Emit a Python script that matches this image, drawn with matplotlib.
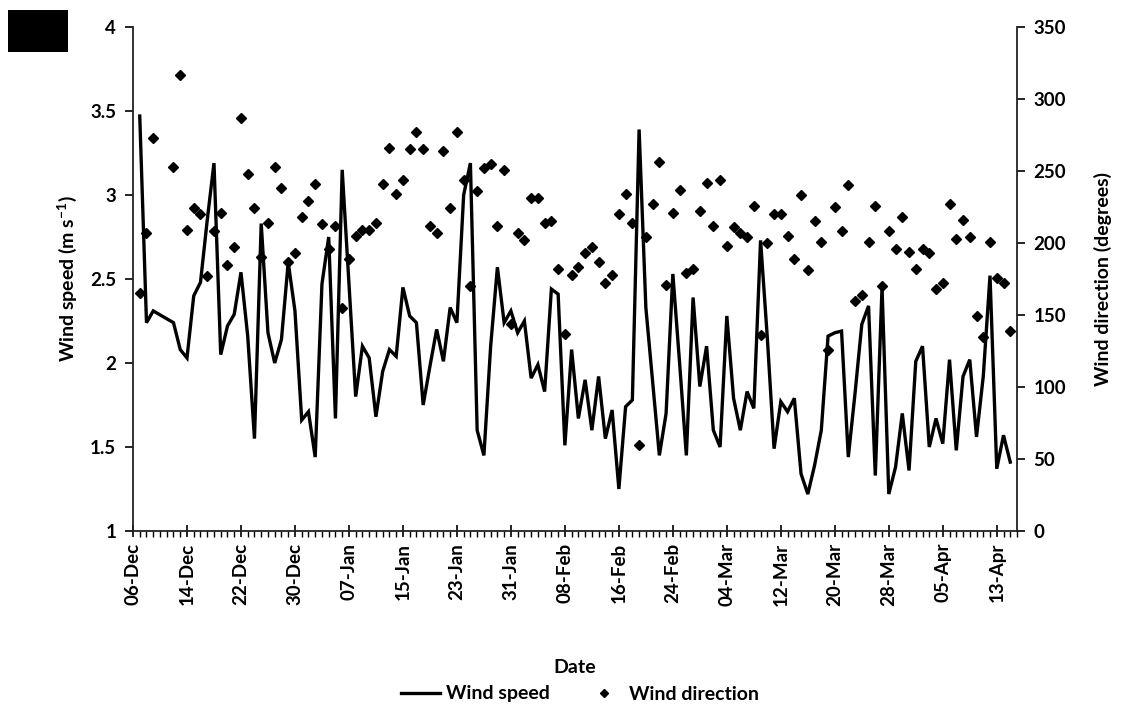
import matplotlib
matplotlib.use("Agg")
import matplotlib.pyplot as plt
from matplotlib.lines import Line2D
from matplotlib.patches import Rectangle
from matplotlib.ticker import MultipleLocator

# Day offsets from 06-Dec
speed_days = [1, 2, 3, 6, 7, 8, 9, 10, 11, 12, 13, 14, 15, 16, 17, 18, 19, 20, 21, 22,
              23, 24, 25, 26, 27, 28, 29, 30, 31, 32, 33, 34, 35, 36, 37, 38, 39, 40, 41, 42,
              43, 44, 45, 46, 47, 48, 49, 50, 51, 52, 53, 54, 55, 56, 57, 58, 59, 60, 61, 62,
              63, 64, 65, 66, 67, 68, 69, 70, 71, 72, 73, 74, 75, 76, 77, 78, 79, 80, 81, 82,
              83, 84, 85, 86, 87, 88, 89, 90, 91, 92, 93, 94, 95, 96, 97, 98, 99, 100, 101, 102,
              103, 104, 105, 106, 107, 108, 109, 110, 111, 112, 113, 114, 115, 116, 117, 118, 119, 120, 121, 122,
              123, 124, 125, 126, 127, 128, 129, 130]
wind_speed = [3.47, 2.24, 2.31, 2.24, 2.08, 2.03, 2.40, 2.48, 2.85, 3.19, 2.05, 2.22, 2.29, 2.54, 2.16, 1.55, 2.83, 2.18, 2.00, 2.14,
              2.60, 2.31, 1.66, 1.71, 1.44, 2.47, 2.75, 1.67, 3.15, 2.47, 1.80, 2.10, 2.03, 1.68, 1.95, 2.08, 2.04, 2.45, 2.28, 2.24,
              1.75, 1.98, 2.20, 2.01, 2.33, 2.24, 3.00, 3.19, 1.60, 1.45, 2.10, 2.57, 2.24, 2.31, 2.18, 2.25, 1.91, 1.99, 1.83, 2.44,
              2.41, 1.51, 2.08, 1.67, 1.90, 1.60, 1.92, 1.55, 1.72, 1.25, 1.74, 1.78, 3.39, 2.33, 1.89, 1.45, 1.70, 2.53, 2.00, 1.45,
              2.39, 1.86, 2.10, 1.60, 1.50, 2.28, 1.79, 1.60, 1.83, 1.73, 2.73, 2.15, 1.49, 1.77, 1.71, 1.79, 1.34, 1.22, 1.39, 1.60,
              2.16, 2.18, 2.19, 1.44, 1.82, 2.23, 2.34, 1.33, 2.45, 1.22, 1.38, 1.70, 1.36, 2.01, 2.10, 1.50, 1.67, 1.52, 2.02, 1.48,
              1.92, 2.02, 1.56, 1.92, 2.52, 1.37, 1.57, 1.41]

dir_days = speed_days
wind_direction = [165, 207, 273, 253, 317, 209, 224, 220, 177, 208, 221, 185, 197, 287, 248, 224, 190, 214, 253, 238,
                  187, 193, 218, 229, 241, 213, 196, 212, 155, 189, 205, 209, 209, 214, 241, 266, 234, 244, 265, 277,
                  265, 212, 207, 264, 224, 277, 244, 170, 236, 252, 255, 212, 251, 144, 207, 202, 231, 231, 214, 215,
                  182, 137, 178, 183, 193, 197, 187, 172, 178, 220, 234, 214, 60, 204, 227, 256, 171, 221, 237, 179,
                  182, 222, 242, 212, 244, 198, 211, 207, 204, 226, 136, 200, 220, 220, 205, 189, 233, 181, 215, 201,
                  126, 225, 208, 240, 160, 164, 201, 226, 170, 208, 196, 218, 194, 182, 196, 193, 168, 172, 227, 203,
                  216, 204, 149, 135, 201, 176, 172, 139]

tick_days = [0, 8, 16, 24, 32, 40, 48, 56, 64, 72, 80, 88, 96, 104, 112, 120, 128]
tick_labels = ['06-Dec', '14-Dec', '22-Dec', '30-Dec', '07-Jan', '15-Jan', '23-Jan', '31-Jan',
               '08-Feb', '16-Feb', '24-Feb', '04-Mar', '12-Mar', '20-Mar', '28-Mar', '05-Apr', '13-Apr']

plt.rcParams['font.family'] = ['Lato', 'DejaVu Sans']
plt.rcParams['font.weight'] = 'bold'
plt.rcParams['mathtext.default'] = 'regular'

fig = plt.figure(figsize=(11.28, 7.19), dpi=100)
ax = fig.add_axes([133/1128, 1-531/719, (1017-133)/1128, (531-27)/719])
ax2 = ax.twinx()

ax.plot(speed_days, wind_speed, color='black', lw=2.4, solid_joinstyle='miter')
ax2.plot(dir_days, wind_direction, linestyle='none', marker='D', color='black', markersize=5)

ax.set_xlim(0, 131)
ax.set_ylim(1, 4)
ax2.set_ylim(0, 350)
ax.set_yticks([1, 1.5, 2, 2.5, 3, 3.5, 4])
ax.set_yticklabels(['1', '1.5', '2', '2.5', '3', '3.5', '4'])
ax2.set_yticks(range(0, 351, 50))
ax.set_xticks(tick_days)
ax.set_xticklabels(tick_labels, rotation=90)
ax.xaxis.set_minor_locator(MultipleLocator(1))

for a in (ax, ax2):
    a.spines['top'].set_visible(False)
    for s in a.spines.values():
        s.set_linewidth(1.3)
        s.set_color('#222222')
ax.spines['right'].set_visible(False)
ax2.spines['left'].set_visible(False)
ax2.spines['bottom'].set_visible(False)

ax.tick_params(axis='y', direction='out', length=6, width=1.2, labelsize=13.5, pad=6)
ax2.tick_params(axis='y', direction='out', length=6, width=1.2, labelsize=13.5, pad=6)
ax.tick_params(axis='x', which='major', direction='inout', length=9, width=1.2, labelsize=13.5, pad=4)
ax.tick_params(axis='x', which='minor', direction='out', length=4, width=1.0)

ax.set_ylabel('Wind speed (m s$^{-1}$)', fontsize=14, fontweight='bold', labelpad=8)
ax2.set_ylabel('Wind direction (degrees)', fontsize=14, fontweight='bold', labelpad=20)
ax.set_xlabel('Date', fontsize=14, fontweight='bold', labelpad=38)

handles = [Line2D([0], [0], color='black', lw=2.4),
           Line2D([0], [0], linestyle='none', marker='D', color='black', markersize=4.5)]
fig.legend(handles, ['Wind speed', 'Wind direction'], loc='center', bbox_to_anchor=(580/1128, 1-694/719),
           ncol=2, frameon=False, fontsize=14, handlelength=2.0, columnspacing=1.8, handletextpad=0.3)

fig.patches.append(Rectangle((8/1128, 1-52/719), 60/1128, 42/719, transform=fig.transFigure,
                             facecolor='black', edgecolor='none'))

fig.savefig('out.png', dpi=100)
